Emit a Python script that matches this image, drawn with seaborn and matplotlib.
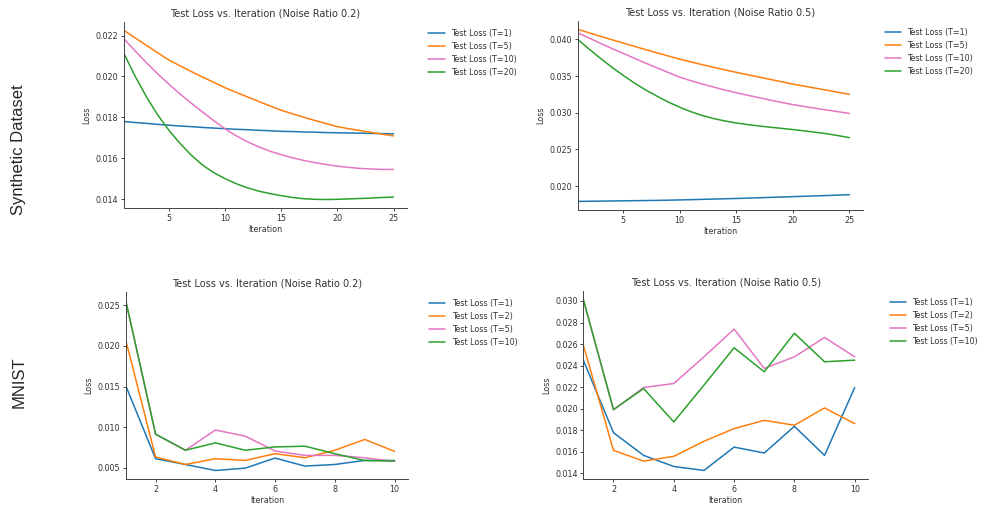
import matplotlib
matplotlib.use("Agg")
import matplotlib.pyplot as plt
import numpy as np
import pandas as pd
import seaborn as sns
from matplotlib.ticker import MultipleLocator

# Synthetic dataset, iterations 1..25
syn_iter = list(range(1, 26))
syn_02_t1 = [0.01780, 0.01775, 0.01771, 0.01766, 0.01762, 0.01758, 0.01755, 0.01751, 0.01748, 0.01745,
             0.01742, 0.01740, 0.01737, 0.01735, 0.01732, 0.01731, 0.01729, 0.01728, 0.01726, 0.01725,
             0.01724, 0.01723, 0.01722, 0.01721, 0.01720]
syn_02_t5 = [0.02225, 0.02188, 0.02152, 0.02116, 0.02080, 0.02052, 0.02024, 0.01997, 0.01971, 0.01945,
             0.01922, 0.01900, 0.01878, 0.01856, 0.01835, 0.01818, 0.01801, 0.01785, 0.01770, 0.01755,
             0.01745, 0.01736, 0.01727, 0.01718, 0.01710]
syn_02_t10 = [0.02184, 0.02124, 0.02067, 0.02013, 0.01962, 0.01914, 0.01869, 0.01826, 0.01784, 0.01744,
              0.01710, 0.01681, 0.01656, 0.01635, 0.01618, 0.01603, 0.01590, 0.01579, 0.01570, 0.01562,
              0.01556, 0.01551, 0.01548, 0.01546, 0.01546]
syn_02_t20 = [0.02111, 0.02000, 0.01900, 0.01812, 0.01737, 0.01672, 0.01615, 0.01567, 0.01530, 0.01501,
              0.01476, 0.01456, 0.01440, 0.01428, 0.01418, 0.01409, 0.01403, 0.01400, 0.01399, 0.01400,
              0.01402, 0.01404, 0.01406, 0.01409, 0.01411]

syn_05_t1 = [0.01790, 0.01792, 0.01794, 0.01796, 0.01798, 0.01800, 0.01802, 0.01804, 0.01807, 0.01810,
             0.01814, 0.01818, 0.01822, 0.01826, 0.01830, 0.01835, 0.01840, 0.01845, 0.01850, 0.01855,
             0.01860, 0.01865, 0.01870, 0.01876, 0.01882]
syn_05_t5 = [0.04137, 0.04089, 0.04042, 0.03996, 0.03950, 0.03905, 0.03860, 0.03816, 0.03773, 0.03730,
             0.03692, 0.03655, 0.03619, 0.03584, 0.03550, 0.03518, 0.03486, 0.03454, 0.03422, 0.03390,
             0.03362, 0.03334, 0.03306, 0.03278, 0.03250]
syn_05_t10 = [0.04091, 0.04018, 0.03947, 0.03877, 0.03810, 0.03742, 0.03676, 0.03612, 0.03548, 0.03485,
              0.03436, 0.03391, 0.03349, 0.03309, 0.03272, 0.03238, 0.03205, 0.03172, 0.03140, 0.03110,
              0.03085, 0.03060, 0.03036, 0.03013, 0.02990]
syn_05_t20 = [0.04000, 0.03868, 0.03742, 0.03622, 0.03510, 0.03405, 0.03310, 0.03225, 0.03145, 0.03075,
              0.03013, 0.02962, 0.02920, 0.02887, 0.02860, 0.02838, 0.02819, 0.02802, 0.02786, 0.02770,
              0.02752, 0.02733, 0.02713, 0.02687, 0.02660]

# MNIST, iterations 1..10
mn_iter = list(range(1, 11))
mn_02_t1 = [0.01512, 0.00612, 0.00541, 0.00467, 0.00496, 0.00620, 0.00521, 0.00541, 0.00591, 0.00590]
mn_02_t2 = [0.02073, 0.00633, 0.00541, 0.00612, 0.00591, 0.00674, 0.00624, 0.00716, 0.00849, 0.00703]
mn_02_t5 = [0.02550, 0.00912, 0.00716, 0.00965, 0.00890, 0.00707, 0.00653, 0.00653, 0.00624, 0.00579]
mn_02_t10 = [0.02562, 0.00915, 0.00716, 0.00807, 0.00716, 0.00757, 0.00766, 0.00674, 0.00590, 0.00583]

mn_05_t1 = [0.02450, 0.01776, 0.01565, 0.01462, 0.01425, 0.01642, 0.01587, 0.01835, 0.01565, 0.02196]
mn_05_t2 = [0.02590, 0.01612, 0.01512, 0.01556, 0.01696, 0.01814, 0.01891, 0.01845, 0.02006, 0.01860]
mn_05_t5 = [0.03010, 0.01988, 0.02196, 0.02233, 0.02481, 0.02739, 0.02373, 0.02481, 0.02661, 0.02481]
mn_05_t10 = [0.03016, 0.01991, 0.02186, 0.01876, 0.02218, 0.02565, 0.02342, 0.02700, 0.02435, 0.02450]

syn_labels = ["Test Loss (T=1)", "Test Loss (T=5)", "Test Loss (T=10)", "Test Loss (T=20)"]
mn_labels = ["Test Loss (T=1)", "Test Loss (T=2)", "Test Loss (T=5)", "Test Loss (T=10)"]

sns.set_style("ticks")
plt.rcParams['font.family'] = ['DejaVu Sans']
pal = sns.color_palette("tab10")
colors = [pal[0], pal[1], pal[6], pal[2]]

fig = plt.figure(figsize=(9.86, 5.11), dpi=100)

panels = [
    ([0.1258, 0.593, 0.287, 0.364], syn_iter, [syn_02_t1, syn_02_t5, syn_02_t10, syn_02_t20],
     syn_labels, "Test Loss vs. Iteration (Noise Ratio 0.2)", 5, 0.002),
    ([0.5859, 0.589, 0.2894, 0.3705], syn_iter, [syn_05_t1, syn_05_t5, syn_05_t10, syn_05_t20],
     syn_labels, "Test Loss vs. Iteration (Noise Ratio 0.5)", 5, 0.005),
    ([0.1275, 0.0626, 0.2863, 0.3665], mn_iter, [mn_02_t1, mn_02_t2, mn_02_t5, mn_02_t10],
     mn_labels, "Test Loss vs. Iteration (Noise Ratio 0.2)", 2, 0.005),
    ([0.5916, 0.0626, 0.289, 0.3685], mn_iter, [mn_05_t1, mn_05_t2, mn_05_t5, mn_05_t10],
     mn_labels, "Test Loss vs. Iteration (Noise Ratio 0.5)", 2, 0.002),
]

for rect, xs, series, labels, title, xstep, ystep in panels:
    ax = fig.add_axes(rect)
    for vals, lab, col in zip(series, labels, colors):
        sns.lineplot(x=xs, y=vals, ax=ax, label=lab, color=col, linewidth=1.1)
    ax.set_xlim(left=1)
    ax.xaxis.set_major_locator(MultipleLocator(xstep))
    ax.yaxis.set_major_locator(MultipleLocator(ystep))
    ax.set_title(title, fontsize=7, pad=4, color="#333333")
    ax.set_xlabel("Iteration", fontsize=5.8, labelpad=2, color="#333333")
    ax.set_ylabel("Loss", fontsize=5.8, labelpad=3, color="#333333")
    ax.tick_params(labelsize=5.8, length=2, width=0.6, pad=2, labelcolor="#333333")
    for s in ax.spines.values():
        s.set_linewidth(0.7)
        s.set_color("#444444")
    sns.despine(ax=ax)
    leg = ax.legend(loc="upper left", bbox_to_anchor=(1.05, 1), frameon=False, fontsize=5.8)
    for t in leg.get_texts():
        t.set_color("#333333")

fig.text(0.019, 1 - 150 / 511, "Synthetic Dataset", rotation=90, ha="center", va="center",
         fontsize=12, family=["Liberation Sans", "DejaVu Sans"])
fig.text(0.019, 1 - 382 / 511, "MNIST", rotation=90, ha="center", va="center",
         fontsize=12, family=["Liberation Sans", "DejaVu Sans"])

fig.savefig("out.png", dpi=100)
